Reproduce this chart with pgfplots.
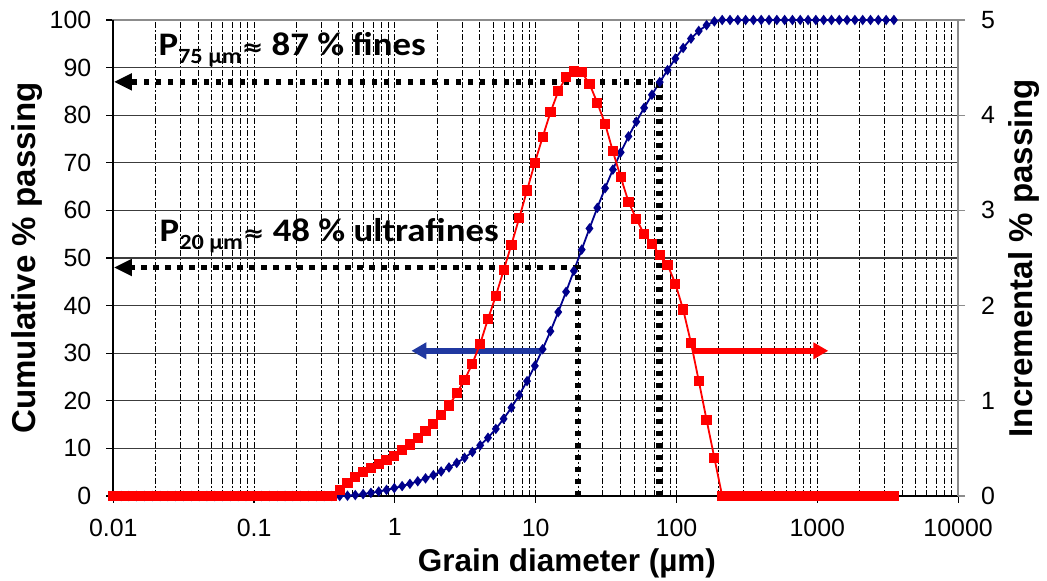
\documentclass[border=0pt]{standalone}
\usepackage{fontspec}
\setmainfont{Liberation Sans}
\newfontfamily\calibri{Carlito}
\newfontfamily\djv{DejaVu Sans}
\usepackage{pgfplots}
\pgfplotsset{compat=1.18}
\usepackage{pgfplotstable}
\usetikzlibrary{arrows.meta}
\definecolor{cumblue}{RGB}{0,0,140}
\definecolor{arrblue}{RGB}{32,56,160}
\definecolor{gridgray}{RGB}{60,60,60}
\definecolor{framegray}{RGB}{140,140,140}

\pgfplotstableread{
d cum inc
0.01 0 0
0.011362 0 0
0.012909 0 0
0.014667 0 0
0.016664 0 0
0.018933 0 0
0.021511 0 0
0.024440 0 0
0.027768 0 0
0.031549 0 0
0.035845 0 0
0.040726 0 0
0.046272 0 0
0.052573 0 0
0.059732 0 0
0.067866 0 0
0.077108 0 0
0.087608 0 0
0.099535 0 0
0.11309 0 0
0.12849 0 0
0.14599 0 0
0.16587 0 0
0.18845 0 0
0.21411 0 0
0.24327 0 0
0.27640 0 0
0.31404 0 0
0.35680 0 0
0.40539 0 0.06
0.46059 0.06 0.14
0.52330 0.20 0.20
0.59456 0.40 0.25
0.67553 0.65 0.29
0.76751 0.94 0.34
0.87203 1.28 0.38
0.99051 1.66 0.42
1.1254 2.08 0.48
1.2787 2.56 0.54
1.4528 3.10 0.61
1.6506 3.71 0.68
1.8754 4.39 0.76
2.1308 5.15 0.85
2.4209 6.00 0.95
2.7506 6.95 1.08
3.1251 8.03 1.22
3.5507 9.25 1.39
4.0342 10.64 1.60
4.5836 12.24 1.86
5.2077 14.10 2.10
5.9168 16.20 2.37
6.7225 18.57 2.64
7.6380 21.21 2.92
8.6781 24.13 3.21
9.8583 27.34 3.50
11.201 30.84 3.77
12.726 34.61 4.03
14.459 38.64 4.25
16.428 42.89 4.40
18.665 47.29 4.46
21.207 51.75 4.45
24.095 56.20 4.33
27.376 60.53 4.13
31.104 64.66 3.91
35.339 68.57 3.62
40.151 72.19 3.35
45.619 75.54 3.09
51.831 78.63 2.91
58.889 81.54 2.75
66.908 84.29 2.65
76.019 86.94 2.53
86.371 89.47 2.43
98.133 91.90 2.23
111.49 94.13 1.96
126.68 96.09 1.61
143.93 97.70 1.21
163.53 98.91 0.80
185.80 99.71 0.40
211.10 100 0
239.85 100 0
272.51 100 0
309.62 100 0
351.79 100 0
399.69 100 0
454.12 100 0
515.97 100 0
586.23 100 0
666.06 100 0
756.77 100 0
859.82 100 0
976.47 100 0
1109.4 100 0
1260.5 100 0
1432.2 100 0
1627.2 100 0
1848.8 100 0
2100.6 100 0
2386.7 100 0
2711.7 100 0
3081.0 100 0
3500.0 100 0
}\psd

\begin{document}
\begin{tikzpicture}
\begin{axis}[
  scale only axis, width=422.4bp, height=238bp,
  at={(0,0)}, anchor=south west,
  xmode=log, xmin=0.01, xmax=10000,
  ymin=0, ymax=100,
  clip=false,
  tick align=outside,
  major tick length=3.5bp, minor tick length=0pt,
  tick label style={font=\fontsize{12.5}{14}\selectfont},
  /pgf/number format/assume math mode=true,
  xtick={0.01,0.1,1,10,100,1000,10000},
  xticklabels={0.01,0.1,1,10,100,1000,10000},
  minor xtick={0.02,0.03,0.04,0.05,0.06,0.07,0.08,0.09,
               0.2,0.3,0.4,0.5,0.6,0.7,0.8,0.9,
               2,3,4,5,6,7,8,9,
               20,30,40,50,60,70,80,90,
               200,300,400,500,600,700,800,900,
               2000,3000,4000,5000,6000,7000,8000,9000},
  ytick={0,10,...,100},
  xtick pos=left, ytick pos=left,
  xmajorgrids, xminorgrids, ymajorgrids,
  major x grid style={black, line width=0.5bp, dash pattern=on 3bp off 1.2bp on 0.6bp off 1.2bp},
  minor x grid style={black, line width=0.5bp, dash pattern=on 3bp off 1.2bp on 0.6bp off 1.2bp},
  major y grid style={gridgray, line width=0.6bp},
  axis line style={framegray, line width=0.8bp},
  tick style={black, line width=0.6bp},
  xticklabel style={yshift=-4.3bp},
  yticklabel style={xshift=-4bp},
]
\coordinate (SW) at (rel axis cs:0,0);
\coordinate (NE) at (rel axis cs:1,1);
\coordinate (YL) at (rel axis cs:0,0.5);
\coordinate (YR) at (rel axis cs:1,0.5);
\coordinate (XB) at (rel axis cs:0.537,0);
\draw[black, line width=0.8bp] (rel axis cs:0,1) -- (rel axis cs:0,0) -- (rel axis cs:1,0);
\addplot[cumblue, line width=0.9bp, mark=diamond*, mark size=1.9bp, mark options={solid}] table[x=d,y=cum]{\psd};
\draw[black, line width=2.8bp, dash pattern=on 2.6bp off 3.4bp, -{Triangle[length=9bp,width=8bp]}]
  (axis cs:75,0) -- (axis cs:75,87) -- (axis cs:0.0101,87);
\draw[black, line width=2.8bp, dash pattern=on 2.6bp off 3.4bp, -{Triangle[length=9bp,width=8bp]}]
  (axis cs:20,0) -- (axis cs:20,48) -- (axis cs:0.0101,48);
\draw[arrblue, line width=2.8bp, -{Triangle[length=7.5bp,width=8bp]}] (axis cs:11.3,30.5) -- (axis cs:1.31,30.5);
\draw[red, line width=2.8bp, -{Triangle[length=7.5bp,width=8bp]}] (axis cs:131.5,30.5) -- (axis cs:1197,30.5);
\node[anchor=base west, inner sep=0pt, xscale=1.12, font=\calibri\bfseries\fontsize{16.5}{18}\selectfont] at (axis cs:0.0208,92.6)
  {P\raisebox{-4bp}{\fontsize{10.9}{12}\selectfont 75 µm}{\djv\bfseries\fontsize{11.5}{12}\selectfont ≈} 87 \% fines};
\node[anchor=base west, inner sep=0pt, xscale=1.12, font=\calibri\bfseries\fontsize{16.5}{18}\selectfont] at (axis cs:0.0212,53.4)
  {P\raisebox{-4bp}{\fontsize{10.9}{12}\selectfont 20 µm}{\djv\bfseries\fontsize{11.5}{12}\selectfont ≈} 48 \% ultrafines};
\end{axis}
\begin{axis}[
  scale only axis, width=422.4bp, height=238bp,
  at={(0,0)}, anchor=south west,
  xmode=log, xmin=0.01, xmax=10000,
  ymin=0, ymax=5,
  clip=false,
  tick align=outside,
  major tick length=3.5bp, minor tick length=0pt,
  tick label style={font=\fontsize{12.5}{14}\selectfont},
  /pgf/number format/assume math mode=true,
  ytick={0,1,2,3,4,5},
  axis x line=none, axis y line*=right,
  y axis line style={framegray, line width=0.8bp},
  tick style={framegray, line width=0.6bp},
  yticklabel style={xshift=4.5bp},
]
\addplot[red, line width=0.9bp, mark=square*, mark size=2.1bp, mark options={solid}] table[x=d,y=inc]{\psd};
\end{axis}
\node[rotate=90, font=\bfseries\fontsize{16.6}{18}\selectfont] at ([xshift=-43bp]YL) {Cumulative \% passing};
\node[rotate=90, font=\bfseries\fontsize{16.6}{18}\selectfont] at ([xshift=33bp]YR) {Incremental \% passing};
\node[font=\bfseries\fontsize{15.8}{18}\selectfont] at ([yshift=-33.5bp]XB) {Grain diameter (µm)};
\pgfresetboundingbox
\path[use as bounding box] ([xshift=-56.65bp,yshift=-42.5bp]SW) rectangle ([xshift=44.45bp,yshift=10bp]NE);
\end{tikzpicture}
\end{document}
